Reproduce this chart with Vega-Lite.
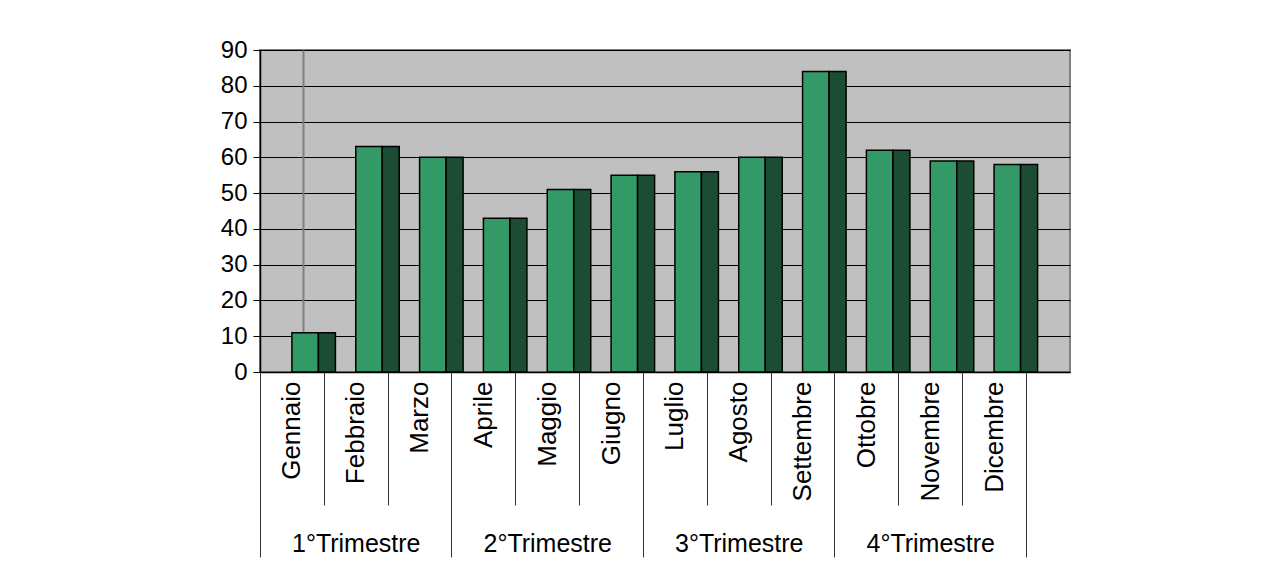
{
  "$schema": "https://vega.github.io/schema/vega-lite/v6.json",
  "width": 810,
  "height": 322,
  "autosize": {"type": "none"},
  "padding": {"left": 260, "top": 50, "right": 192, "bottom": 199},
  "background": "white",
  "config": {
    "font": "Liberation Sans",
    "view": {"fill": "#C0C0C0", "stroke": "#808080", "strokeWidth": 2},
    "axis": {"labelColor": "#000000", "labelFont": "Liberation Sans"}
  },
  "data": {
    "values": [
      {"mese": "Gennaio", "trimestre": "1°Trimestre", "valore": 11},
      {"mese": "Febbraio", "trimestre": "1°Trimestre", "valore": 63},
      {"mese": "Marzo", "trimestre": "1°Trimestre", "valore": 60},
      {"mese": "Aprile", "trimestre": "2°Trimestre", "valore": 43},
      {"mese": "Maggio", "trimestre": "2°Trimestre", "valore": 51},
      {"mese": "Giugno", "trimestre": "2°Trimestre", "valore": 55},
      {"mese": "Luglio", "trimestre": "3°Trimestre", "valore": 56},
      {"mese": "Agosto", "trimestre": "3°Trimestre", "valore": 60},
      {"mese": "Settembre", "trimestre": "3°Trimestre", "valore": 84},
      {"mese": "Ottobre", "trimestre": "4°Trimestre", "valore": 62},
      {"mese": "Novembre", "trimestre": "4°Trimestre", "valore": 59},
      {"mese": "Dicembre", "trimestre": "4°Trimestre", "valore": 58}
    ]
  },
  "layer": [
    {
      "mark": {"type": "tick", "opacity": 0},
      "encoding": {
        "y": {
          "field": "valore", "type": "quantitative",
          "scale": {"domain": [0, 90], "nice": false},
          "axis": {"orient": "left", "offset": -43, "title": null, "labels": false, "ticks": false, "grid": false, "domainColor": "#808080", "domainWidth": 2}
        }
      }
    },
    {
      "mark": {"type": "bar", "fill": "#339966", "stroke": "#000000", "strokeWidth": 1.5, "width": 26.5, "xOffset": 13.25},
      "encoding": {
        "x": {
          "field": "mese", "type": "nominal", "sort": null,
          "scale": {"type": "band", "paddingInner": 0, "paddingOuter": 0.34465, "align": 0},
          "axis": {"title": null, "orient": "bottom", "tickBand": "extent", "tickSize": 133, "tickColor": "#333333", "tickWidth": 1, "labelAngle": -90, "labelAlign": "right", "labelBaseline": "middle", "labelPadding": -124, "labelFontSize": 26, "labelColor": "#000000", "domainColor": "#000000", "domainWidth": 1.5, "labelOverlap": false}
        },
        "y": {
          "field": "valore", "type": "quantitative",
          "scale": {"domain": [0, 90], "nice": false},
          "axis": {"title": null, "orient": "left", "values": [0, 10, 20, 30, 40, 50, 60, 70, 80, 90], "tickSize": 7, "tickColor": "#000000", "labelFontSize": 24, "labelPadding": 6, "domainColor": "#000000", "domainWidth": 1.5, "grid": true, "gridColor": "#000000", "gridWidth": 1}
        }
      }
    },
    {
      "mark": {"type": "bar", "fill": "#1C4C34", "stroke": "#000000", "strokeWidth": 1.5, "width": 17, "xOffset": 35},
      "encoding": {
        "x": {
          "field": "mese", "type": "nominal", "sort": null,
          "scale": {"type": "band", "paddingInner": 0, "paddingOuter": 0.34465, "align": 0},
          "axis": null
        },
        "y": {"field": "valore", "type": "quantitative", "scale": {"domain": [0, 90], "nice": false}, "axis": null}
      }
    },
    {
      "mark": {"type": "tick", "opacity": 0},
      "encoding": {
        "x": {
          "field": "trimestre", "type": "nominal", "sort": null,
          "scale": {"type": "band", "paddingInner": 0, "paddingOuter": 0.1149, "align": 0},
          "axis": {"title": null, "orient": "bottom", "tickBand": "extent", "tickSize": 185, "tickColor": "#333333", "tickWidth": 1, "labelAngle": 0, "labelAlign": "center", "labelBaseline": "top", "labelPadding": -26, "labelFontSize": 25, "labelColor": "#000000", "domain": false}
        }
      }
    }
  ],
  "resolve": {"scale": {"x": "independent"}, "axis": {"x": "independent", "y": "independent"}}
}
